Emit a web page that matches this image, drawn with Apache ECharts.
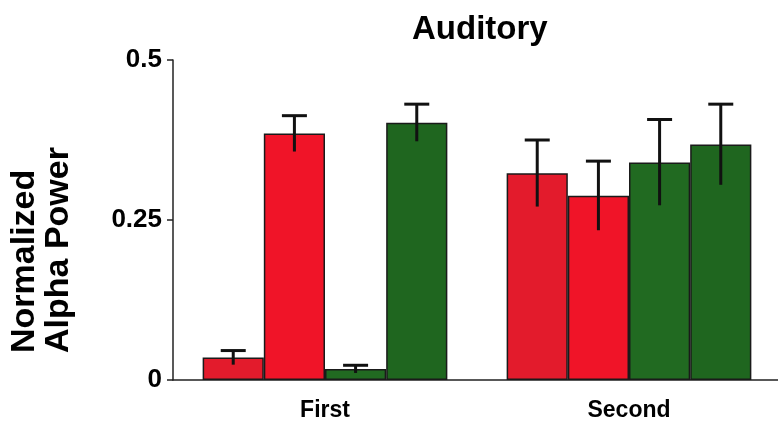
<!DOCTYPE html>
<html>
<head>
<meta charset="utf-8">
<script src="https://cdn.jsdelivr.net/npm/echarts@6/dist/echarts.min.js"></script>
<style>
html,body{margin:0;padding:0;background:#fff;}
#chart{width:778px;height:431px;}
</style>
</head>
<body>
<div id="chart"></div>
<script>
// ---- data ----
var titleText = 'Auditory';
var yAxisTitle = 'Normalized\nAlpha Power';
var categories = ['First', 'Second'];
var yTicks = [0, 0.25, 0.5];
var seriesNames = ['Red A', 'Red B', 'Green A', 'Green B'];
var redA = [0.035, 0.323];
var redB = [0.385, 0.288];
var greenA = [0.017, 0.340];
var greenB = [0.402, 0.368];
var errRedA = [0.011, 0.052];
var errRedB = [0.028, 0.054];
var errGreenA = [0.006, 0.067];
var errGreenB = [0.029, 0.063];

// ---- styles ----
var colors = ['#E31B2C', '#F01428', '#216A21', '#1F661F'];
var catGap = 0.195;

var values = [redA, redB, greenA, greenB];
var errors = [errRedA, errRedB, errGreenA, errGreenB];

var chart = echarts.init(document.getElementById('chart'), null, {renderer: 'canvas'});

var barSeries = values.map(function (v, i) {
  return {
    name: seriesNames[i],
    type: 'bar',
    data: v,
    barGap: '0%',
    barCategoryGap: (catGap * 100) + '%',
    itemStyle: {color: colors[i], borderColor: '#1a1a1a', borderWidth: 1.5},
    z: 2
  };
});

var errData = [];
values.forEach(function (v, si) {
  v.forEach(function (val, ci) {
    errData.push([ci, si, val, errors[si][ci]]);
  });
});

var errSeries = {
  type: 'custom',
  z: 5,
  data: errData,
  renderItem: function (params, api) {
    var ci = api.value(0), si = api.value(1), val = api.value(2), err = api.value(3);
    var band = api.size([1, 0])[0];
    var bw = band * (1 - catGap) / 4;
    var cx = api.coord([ci, 0])[0] + (si - 1.5) * bw;
    var yTop = api.coord([ci, val + err])[1];
    var yBot = api.coord([ci, val - err])[1];
    var capHalf = 12.5;
    var st = {stroke: '#111', lineWidth: 3, fill: null};
    return {
      type: 'group',
      children: [
        {type: 'line', shape: {x1: cx, y1: yBot, x2: cx, y2: yTop}, style: st},
        {type: 'line', shape: {x1: cx - capHalf, y1: yTop, x2: cx + capHalf, y2: yTop}, style: st}
      ]
    };
  }
};

chart.setOption({
  backgroundColor: '#fff',
  animation: false,
  title: {
    text: titleText,
    left: 412,
    top: 13,
    padding: 0,
    textStyle: {fontFamily: 'Liberation Sans', fontWeight: 'bold', fontSize: 33, color: '#000'}
  },
  grid: {left: 173, top: 60, width: 608, height: 320, containLabel: false, outerBoundsMode: 'none'},
  xAxis: {
    type: 'category',
    data: categories,
    axisLine: {lineStyle: {color: '#222', width: 1.5}},
    axisTick: {alignWithLabel: true, length: 6, lineStyle: {color: '#222', width: 1.5}},
    axisLabel: {margin: 19, fontFamily: 'Liberation Sans', fontWeight: 'bold', fontSize: 23, color: '#000'},
    splitLine: {show: false}
  },
  yAxis: {
    type: 'value',
    min: yTicks[0],
    max: yTicks[yTicks.length - 1],
    interval: yTicks[1] - yTicks[0],
    axisLine: {show: true, lineStyle: {color: '#222', width: 1.5}},
    axisTick: {show: true, length: 6, lineStyle: {color: '#222', width: 1.5}},
    axisLabel: {margin: 11, fontFamily: 'Liberation Sans', fontWeight: 'bold', fontSize: 26, color: '#000',
      formatter: function (v) { return String(v); }},
    splitLine: {show: false}
  },
  graphic: [{
    type: 'text',
    x: 42,
    y: 353,
    rotation: Math.PI / 2,
    style: {
      text: yAxisTitle,
      fontFamily: 'Liberation Sans',
      fontWeight: 'bold',
      fontSize: 34,
      lineHeight: 34,
      fill: '#000',
      align: 'left',
      verticalAlign: 'middle'
    }
  }],
  series: barSeries.concat([errSeries])
});
</script>
</body>
</html>
